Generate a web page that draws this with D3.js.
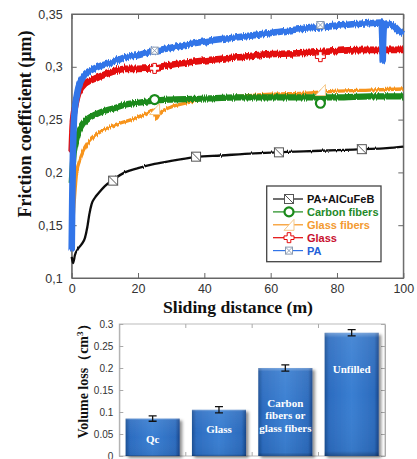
<!DOCTYPE html>
<html><head><meta charset="utf-8">
<script src="https://cdn.jsdelivr.net/npm/d3@7/dist/d3.min.js"></script>
<style>
html,body{margin:0;padding:0;background:#fff;}
svg{display:block;}
</style></head>
<body>
<svg id="c" width="417" height="459"></svg>
<script>
// ---------- DATA ----------
// Friction coefficient vs sliding distance: [distance (m), value]
const seriesPA = [[0,0.126],[0.15,0.17],[0.3,0.205],[0.6,0.245],[1,0.262],[1.5,0.272],[2,0.28],[3,0.288],[4,0.293],[6,0.297],[8,0.300],[13,0.305],[16,0.309],[20,0.311],[25,0.315],[30,0.318],[40,0.324],[50,0.328],[60,0.332],[70,0.336],[80,0.339],[88,0.341],[93.4,0.342],[93.7,0.322],[93.8,0.306],[93.9,0.322],[94.2,0.338],[95,0.341],[97,0.339],[99,0.333],[100,0.331]];
const seriesGlass = [[0,0.22],[0.3,0.245],[0.6,0.255],[1,0.262],[2,0.275],[4,0.284],[8,0.29],[13,0.296],[16,0.298],[20,0.298],[25,0.299],[30,0.302],[40,0.306],[50,0.309],[60,0.312],[70,0.313],[80,0.315],[90,0.316],[100,0.316]];
const seriesGlassFibers = [[0,0.24],[0.15,0.2],[0.35,0.155],[0.7,0.17],[1.5,0.2],[2.5,0.212],[3.5,0.22],[5,0.228],[8,0.237],[13,0.245],[18,0.25],[22,0.255],[24.5,0.259],[25.5,0.251],[26.5,0.256],[30,0.262],[35,0.266],[40,0.27],[50,0.272],[60,0.274],[70,0.275],[80,0.277],[90,0.278],[100,0.279]];
const seriesCarbon = [[0,0.19],[0.3,0.205],[0.6,0.218],[1,0.225],[2,0.237],[4,0.248],[8,0.256],[13,0.261],[16,0.264],[20,0.266],[25,0.268],[30,0.269],[40,0.27],[50,0.271],[60,0.271],[70,0.271],[80,0.271],[90,0.272],[100,0.272]];
const seriesAlCuFeB = [[0,0.12],[0.4,0.114],[1,0.122],[2,0.128],[3,0.132],[4,0.138],[4.7,0.148],[5.3,0.16],[6,0.17],[7,0.176],[8,0.18],[10,0.187],[12.5,0.193],[16,0.2],[20,0.204],[25,0.208],[30,0.211],[37.5,0.2145],[45,0.216],[55,0.218],[62.5,0.219],[70,0.22],[80,0.221],[87.5,0.222],[95,0.223],[100,0.2245]];

// marker points on each curve
const markersPA = [[25,0.3153],[75,0.3396]];
const markersGlass = [[25,0.2985],[75,0.3096]];
const markersGlassFibers = [[25,0.26],[75,0.278]];
const markersCarbon = [[25,0.269],[75,0.2655]];
const markersAlCuFeB = [[12.5,0.1922],[37.5,0.2149],[62.5,0.219],[87.5,0.222]];

const legendNames = ["PA+AlCuFeB","Carbon fibers","Glass fibers","Glass","PA"];
const xTicks = [0,20,40,60,80,100];
const yTicks = [0.1,0.15,0.2,0.25,0.3,0.35];

// Volume loss bar chart
const barCategories = ["Qc","Glass","Carbon fibers or glass fibers","Unfilled"];
const barLabels = [["Qc"],["Glass"],["Carbon","fibers or","glass fibers"],["Unfilled"]];
const barValues = [0.085,0.105,0.2,0.28];
const barErrors = [0.006,0.007,0.007,0.007];
const barTicks = [0,0.05,0.1,0.15,0.2,0.25,0.3];

// ---------- LAYOUT / STYLE ----------
const svg = d3.select("#c");
const defs = svg.append("defs");
const x = d3.scaleLinear().domain([0,100]).range([71.7,403.3]);
const y = d3.scaleLinear().domain([0.1,0.35]).range([278,14]);
const axisCol = "#666";
const labelFont = "Arial, 'Liberation Sans', sans-serif";
const serif = "'Times New Roman','Liberation Serif','DejaVu Serif',serif";

// texture filter: vertical jitter to mimic the measured-signal noise (style only)
function jitterFilter(id, scale){
  const f = defs.append("filter").attr("id",id).attr("filterUnits","userSpaceOnUse")
    .attr("x",55).attr("y",0).attr("width",360).attr("height",300);
  f.append("feTurbulence").attr("type","fractalNoise").attr("baseFrequency","0.9 0.01").attr("numOctaves",2).attr("seed",3).attr("result","n");
  f.append("feColorMatrix").attr("in","n").attr("type","matrix")
    .attr("values","0 0 0 0 0.5  0 1 0 0 0  0 0 0 0 0  0 0 0 0 1").attr("result","m");
  f.append("feDisplacementMap").attr("in","SourceGraphic").attr("in2","m").attr("scale",scale)
    .attr("xChannelSelector","R").attr("yChannelSelector","G");
}
jitterFilter("jit",5);
jitterFilter("jitS",2);

const styles = {
  "PA+AlCuFeB": {color:"#111", width:2.3, text:"#111", data:seriesAlCuFeB, markers:markersAlCuFeB, shape:"sqdiag", filt:"jitS"},
  "Carbon fibers": {color:"#1a8a1a", width:6.2, text:"#1f8a2a", data:seriesCarbon, markers:markersCarbon, shape:"circle", filt:"jit"},
  "Glass fibers": {color:"#f7941d", width:3.3, text:"#f39a30", data:seriesGlassFibers, markers:markersGlassFibers, shape:"tri", filt:"jit"},
  "Glass": {color:"#e30808", width:6.6, text:"#c8102e", data:seriesGlass, markers:markersGlass, shape:"cross", filt:"jit"},
  "PA": {color:"#3174e8", width:6.6, text:"#2360d8", data:seriesPA, markers:markersPA, shape:"sqx", filt:"jit"}
};

// frame
const gTop = svg.append("g");
gTop.append("rect").attr("x",x(0)).attr("y",y(0.35)).attr("width",x(100)-x(0)).attr("height",y(0.1)-y(0.35))
  .attr("fill","none").attr("stroke",axisCol).attr("stroke-width",1);

// axes (inward ticks)
const fmtComma = d => d3.format("~g")(d).replace(".",",");
const yAx = gTop.append("g").attr("transform",`translate(${x(0)},0)`)
  .call(d3.axisLeft(y).tickValues(yTicks).tickFormat(fmtComma).tickSizeInner(-5).tickSizeOuter(0).tickPadding(9));
const yAxR = gTop.append("g").attr("transform",`translate(${x(100)},0)`)
  .call(d3.axisRight(y).tickValues(yTicks).tickFormat("").tickSizeInner(-5).tickSizeOuter(0));
const xAx = gTop.append("g").attr("transform",`translate(0,${y(0.1)})`)
  .call(d3.axisBottom(x).tickValues(xTicks).tickFormat(d3.format("d")).tickSizeInner(-5).tickSizeOuter(0).tickPadding(6));
const xAxT = gTop.append("g").attr("transform",`translate(0,${y(0.35)})`)
  .call(d3.axisTop(x).tickValues(xTicks).tickFormat("").tickSizeInner(-5).tickSizeOuter(0));
[yAx,yAxR,xAx,xAxT].forEach(g=>{
  g.select(".domain").attr("stroke",axisCol);
  g.selectAll(".tick line").attr("stroke",axisCol);
  g.selectAll(".tick text").attr("fill","#333").style("font-family",labelFont).style("font-size","12.5px");
});

// curves
const line = d3.line().x(d=>x(d[0])).y(d=>y(d[1])).curve(d3.curveMonotoneX);
const drawOrder = ["Glass fibers","Carbon fibers","Glass","PA","PA+AlCuFeB"];
drawOrder.forEach(n=>{
  const s = styles[n];
  gTop.append("path").datum(s.data).attr("d",line).attr("fill","none")
    .attr("stroke",s.color).attr("stroke-width",s.width).attr("stroke-linejoin","round").attr("stroke-linecap","butt")
    .attr("filter",`url(#${s.filt})`);
});

// marker drawing
function marker(g, shape, color, cx, cy){
  const m = g.append("g").attr("transform",`translate(${cx},${cy})`);
  if(shape==="sqdiag"){
    m.append("rect").attr("x",-4.5).attr("y",-4.5).attr("width",9).attr("height",9).attr("fill","#fff").attr("stroke","#555").attr("stroke-width",1);
    m.append("line").attr("x1",-4.5).attr("y1",-4.5).attr("x2",4.5).attr("y2",4.5).attr("stroke","#555").attr("stroke-width",1);
  } else if(shape==="sqx"){
    m.append("rect").attr("x",-3.5).attr("y",-3.5).attr("width",7).attr("height",7).attr("fill","#fff").attr("stroke","#8a9ab0").attr("stroke-width",1);
    m.append("path").attr("d","M-3.5,-3.5L3.5,3.5M3.5,-3.5L-3.5,3.5").attr("stroke","#8a9ab0").attr("stroke-width",0.9);
  } else if(shape==="circle"){
    m.append("circle").attr("r",4.5).attr("fill","#fff").attr("stroke",color).attr("stroke-width",2.2);
  } else if(shape==="tri"){
    m.append("path").attr("d","M-5,5.5L5,5.5L5,-5.5Z").attr("fill","#fff").attr("stroke","#f5c98a").attr("stroke-width",1);
  } else if(shape==="cross"){
    const a=1.8,b=5;
    m.append("path").attr("d",`M${-a},${-b}H${a}V${-a}H${b}V${a}H${a}V${b}H${-a}V${a}H${-b}V${-a}H${-a}Z`)
      .attr("fill","#fff").attr("stroke",color).attr("stroke-width",1);
  }
}
drawOrder.forEach(n=>{
  const s = styles[n];
  s.markers.forEach(p=>marker(gTop, s.shape, s.color, x(p[0]), y(p[1])));
});

// legend
const lg = gTop.append("g");
lg.append("rect").attr("x",266.7).attr("y",186).attr("width",114.3).attr("height",75.7)
  .attr("fill","#fff").attr("stroke","#444").attr("stroke-width",1.3);
legendNames.forEach((n,i)=>{
  const s = styles[n];
  const ly = 199 + i*12.9;
  lg.append("line").attr("x1",273).attr("x2",303).attr("y1",ly).attr("y2",ly).attr("stroke",s.color).attr("stroke-width",1.2);
  marker(lg, s.shape, s.color, 289, ly);
  lg.append("text").attr("x",307).attr("y",ly+4).text(n)
    .attr("fill",s.text).style("font-family",labelFont).style("font-weight","bold").style("font-size","11px");
});

// axis titles
gTop.append("text").attr("transform","translate(31,124) rotate(-90)").attr("text-anchor","middle")
  .attr("textLength",187).attr("lengthAdjust","spacingAndGlyphs")
  .text("Friction coefficient (µm)").style("font-family",serif).style("font-weight","bold").style("font-size","18px").attr("fill","#111");
gTop.append("text").attr("x",238).attr("y",313).attr("text-anchor","middle")
  .attr("textLength",150).attr("lengthAdjust","spacingAndGlyphs")
  .text("Sliding distance (m)").style("font-family",serif).style("font-weight","bold").style("font-size","17px").attr("fill","#111");

// ---------- BAR CHART ----------
const yb = d3.scaleLinear().domain([0,0.3]).range([456,324]);
const xb = d3.scaleBand().domain(barCategories).range([119.3,385]).paddingInner(0.185).paddingOuter(0.095);
const bot = svg.append("g");
const grad = defs.append("linearGradient").attr("id","barGrad").attr("x1","0").attr("x2","1").attr("y1","0").attr("y2","0");
[["0%","#1b4f94"],["8%","#2c6cc0"],["50%","#3a7fd2"],["92%","#2c6bbd"],["100%","#17468a"]].forEach(s=>grad.append("stop").attr("offset",s[0]).attr("stop-color",s[1]));
const gradV = defs.append("linearGradient").attr("id","barGradV").attr("x1","0").attr("x2","0").attr("y1","0").attr("y2","1");
[["0%","rgba(255,255,255,0.35)"],["4%","rgba(255,255,255,0.08)"],["50%","rgba(255,255,255,0)"],["96%","rgba(0,0,0,0.05)"],["100%","rgba(0,0,0,0.3)"]].forEach(s=>gradV.append("stop").attr("offset",s[0]).attr("stop-color",s[1]));
const shadow = defs.append("filter").attr("id","shd").attr("x","-20%").attr("y","-20%").attr("width","150%").attr("height","150%");
shadow.append("feDropShadow").attr("dx",2.5).attr("dy",2).attr("stdDeviation",1.8).attr("flood-color","#000").attr("flood-opacity",0.45);

bot.append("rect").attr("x",119.3).attr("y",324).attr("width",385-119.3).attr("height",132)
  .attr("fill","none").attr("stroke","#bbb").attr("stroke-width",1);
const ybAx = bot.append("g").attr("transform","translate(119.3,0)")
  .call(d3.axisLeft(yb).tickValues(barTicks).tickFormat(d3.format("~g")).tickSizeInner(-4).tickSizeOuter(0).tickPadding(6));
const ybAxR = bot.append("g").attr("transform","translate(385,0)")
  .call(d3.axisRight(yb).tickValues(barTicks).tickFormat("").tickSizeInner(-4).tickSizeOuter(0));
[ybAx,ybAxR].forEach(g=>{
  g.select(".domain").attr("stroke","#aaa");
  g.selectAll(".tick line").attr("stroke","#aaa");
  g.selectAll(".tick text").attr("fill","#333").style("font-family",labelFont).style("font-size","10px");
});
// category separator ticks
barCategories.slice(1).forEach(c=>{
  const bx = xb(c) - xb.step()*xb.paddingInner()/2;
  bot.append("line").attr("x1",bx).attr("x2",bx).attr("y1",324).attr("y2",328).attr("stroke","#aaa");
  bot.append("line").attr("x1",bx).attr("x2",bx).attr("y1",452).attr("y2",456).attr("stroke","#aaa");
});

barCategories.forEach((c,i)=>{
  const bx = xb(c), bw = xb.bandwidth(), by = yb(barValues[i]), bh = yb(0)-yb(barValues[i]);
  bot.append("rect").attr("x",bx).attr("y",by).attr("width",bw).attr("height",bh).attr("fill","url(#barGrad)").attr("filter","url(#shd)");
  bot.append("rect").attr("x",bx).attr("y",by).attr("width",bw).attr("height",bh).attr("fill","url(#barGradV)");
  // error bars
  const cx = bx + bw/2;
  const e1 = yb(barValues[i]+barErrors[i]), e0 = yb(barValues[i]-barErrors[i]);
  bot.append("path").attr("d",`M${cx},${e1}V${e0}M${cx-4},${e1}H${cx+4}M${cx-4},${e0}H${cx+4}`)
    .attr("stroke","#111").attr("stroke-width",1.3).attr("fill","none");
});
// bar labels
const labelTopOffset = [24,23,39,40];
barCategories.forEach((c,i)=>{
  const cx = xb(c)+xb.bandwidth()/2;
  const t = bot.append("text").attr("text-anchor","middle").attr("fill","#fff")
    .style("font-family",serif).style("font-weight","bold").style("font-size","11px");
  barLabels[i].forEach((ln,j)=>{
    t.append("tspan").attr("x",cx).attr("y",yb(barValues[i])+labelTopOffset[i]+j*12.4).text(ln);
  });
});
// y title
const vt = bot.append("text").attr("transform","translate(88,378) rotate(-90)").attr("text-anchor","middle")
  .style("font-family",serif).style("font-weight","bold").style("font-size","14px").attr("fill","#111");
vt.append("tspan").text("Volume loss（cm");
vt.append("tspan").text("3").attr("dy",-5).style("font-size","9px");
vt.append("tspan").text("）").attr("dy",5);
</script>
</body></html>
